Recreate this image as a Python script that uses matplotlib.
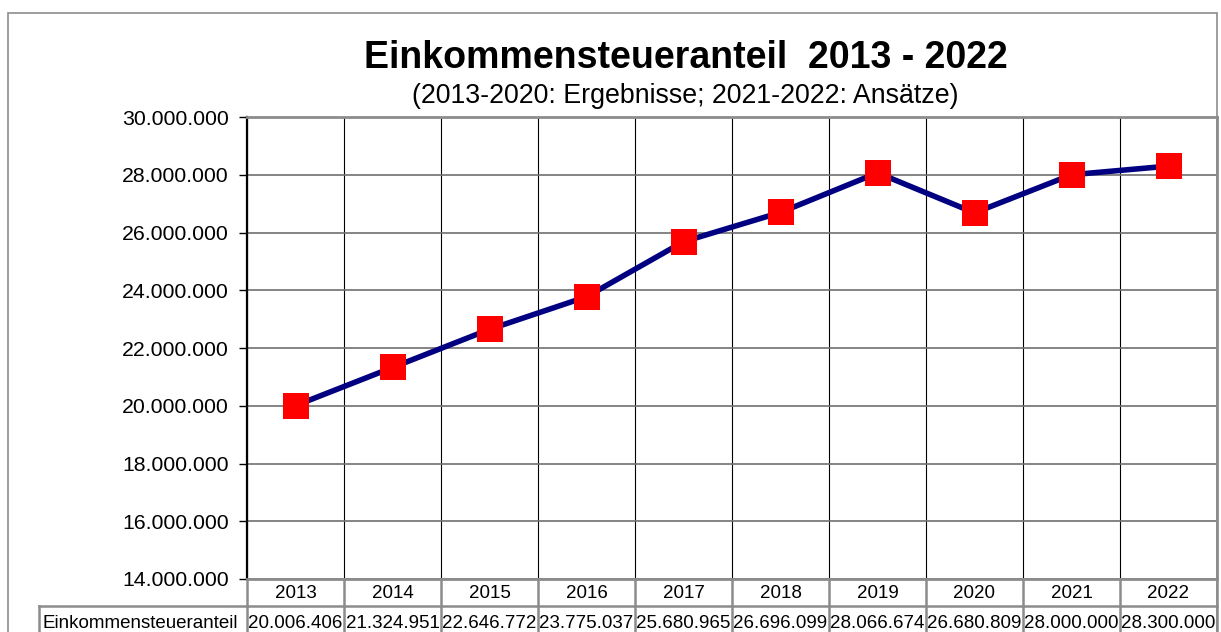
"""Einkommensteueranteil 2013-2022: line chart with data table underneath."""
import matplotlib
matplotlib.use("Agg")
import matplotlib.pyplot as plt
import matplotlib.transforms as mtransforms
from matplotlib.patches import Rectangle
from matplotlib.ticker import FuncFormatter, MultipleLocator
import numpy as np

plt.rcParams["font.family"] = ["Liberation Sans", "DejaVu Sans"]

years = ["2013", "2014", "2015", "2016", "2017", "2018", "2019", "2020", "2021", "2022"]
values = [20006406, 21324951, 22646772, 23775037, 25680965,
          26696099, 28066674, 26680809, 28000000, 28300000]
row_label = "Einkommensteueranteil"
title = "Einkommensteueranteil  2013 - 2022"
subtitle = "(2013-2020: Ergebnisse; 2021-2022: Ansätze)"


def dotted(v, _pos=None):
    return f"{v:,.0f}".replace(",", ".")


W, H = 1221, 632
fig = plt.figure(figsize=(W / 100, H / 100), dpi=100)

# outer chart frame
fig.patches.append(Rectangle((8 / W, -0.05), 1209 / W, 1.05 - 13 / H,
                             transform=fig.transFigure, fill=False,
                             edgecolor="#8c8c8c", lw=1.2))

ax = fig.add_axes([247 / W, 1 - 579 / H, 970 / W, 462 / H])
x = np.arange(len(years))

ax.plot(x, values, color="#000080", lw=4, zorder=3, solid_capstyle="round")
ax.plot(x, values, ls="none", marker="s", ms=18.5, color="#ff0000",
        markeredgewidth=0, zorder=4)

ax.set_xlim(-0.5, len(years) - 0.5)
ax.set_ylim(14_000_000, 30_000_000)
ax.yaxis.set_major_locator(MultipleLocator(2_000_000))
ax.yaxis.set_major_formatter(FuncFormatter(dotted))
ax.set_xticks([])
ax.set_xticks(np.arange(len(years) + 1) - 0.5, minor=True)
ax.tick_params(axis="x", which="both", length=0, labelbottom=False)
ax.tick_params(axis="y", direction="out", length=6, width=1, color="black",
               labelsize=15.3, pad=7)
ax.grid(axis="y", which="major", color="#707070", lw=1.2)
ax.grid(axis="x", which="minor", color="black", lw=0.8)
for side in ("top", "right", "bottom"):
    ax.spines[side].set_color("#8c8c8c")
    ax.spines[side].set_linewidth(2)
ax.spines["left"].set_color("black")
ax.spines["left"].set_linewidth(1.6)

# data table below the plot
trans = mtransforms.blended_transform_factory(ax.transData, ax.transAxes)
row_h = 27 / 462
tc = "#8c8c8c"
for i in range(len(years) + 1):
    ax.plot([i - 0.5, i - 0.5], [0, -2 * row_h - 0.02], transform=trans,
            color=tc, lw=1.8, clip_on=False)
ax.plot([-0.5, len(years) - 0.5], [-row_h, -row_h], transform=trans,
        color=tc, lw=1.8, clip_on=False)
lab_left = (39 - 247) / 970
ax.plot([lab_left, 0], [-row_h, -row_h], transform=ax.transAxes,
        color=tc, lw=1.8, clip_on=False)
ax.plot([lab_left, lab_left], [-row_h, -2 * row_h - 0.02], transform=ax.transAxes,
        color=tc, lw=1.8, clip_on=False)
for i, (yr, v) in enumerate(zip(years, values)):
    ax.text(i, -row_h / 2 - 0.002, yr, transform=trans, ha="center", va="center",
            fontsize=13.5, clip_on=False)
    ax.text(i, -1.5 * row_h - 0.008, dotted(v), transform=trans, ha="center",
            va="center", fontsize=13.5, clip_on=False)
ax.text(lab_left + 0.004, -1.5 * row_h - 0.008, row_label, transform=ax.transAxes,
        ha="left", va="center", fontsize=13.5, clip_on=False)

fig.text(686 / W, 1 - 58 / H, title, ha="center", va="center",
         fontsize=27, fontweight="bold")
fig.text(685 / W, 1 - 96 / H, subtitle, ha="center", va="center", fontsize=19.3)

fig.savefig("out.png", dpi=100)
